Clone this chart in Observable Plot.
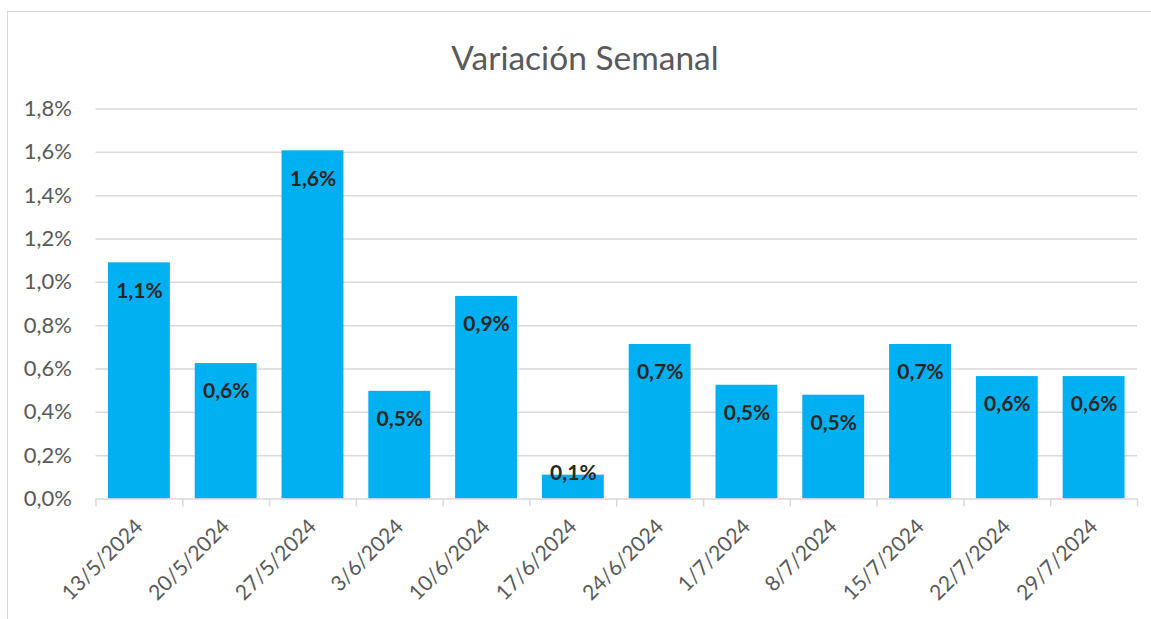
<!DOCTYPE html>
<html>
<head>
<meta charset="utf-8">
<script src="https://cdn.jsdelivr.net/npm/d3@7"></script>
<script src="https://cdn.jsdelivr.net/npm/@observablehq/plot@0.6"></script>
<style>
  html, body { margin: 0; padding: 0; background: #fff; }
  #wrap { position: relative; width: 1151px; height: 619px; overflow: hidden; font-family: Lato, "Open Sans", sans-serif; }
  #frame { position: absolute; left: 7px; top: 11px; width: 1200px; height: 700px; border-left: 1.5px solid #d9d9d9; border-top: 1.5px solid #d9d9d9; }
  #title { position: absolute; left: 0; top: 35px; width: 1170px; text-align: center; font-size: 33.5px; color: #595959; line-height: 44px; }
  #chart { position: absolute; left: 0; top: 0; }
</style>
</head>
<body>
<div id="wrap">
  <div id="frame"></div>
  <div id="chart"></div>
  <div id="title">Variación Semanal</div>
</div>
<script>
const weeks = ["13/5/2024","20/5/2024","27/5/2024","3/6/2024","10/6/2024","17/6/2024","24/6/2024","1/7/2024","8/7/2024","15/7/2024","22/7/2024","29/7/2024"];
const variation = [1.09, 0.625, 1.607, 0.497, 0.935, 0.11, 0.713, 0.525, 0.479, 0.713, 0.565, 0.565];
const yTicks = [0, 0.2, 0.4, 0.6, 0.8, 1.0, 1.2, 1.4, 1.6, 1.8];

const data = weeks.map((w, i) => ({week: w, value: variation[i]}));
const fmt = d => d.toFixed(1).replace(".", ",") + "%";

const W = 1151, H = 619, mL = 95.5, mR = 14, mT = 108.5, mB = 120.5;
const step = (W - mL - mR) / weeks.length;

const chart = Plot.plot({
  width: W,
  height: H,
  marginLeft: mL,
  marginRight: mR,
  marginTop: mT,
  marginBottom: mB,
  style: {fontFamily: "Lato, 'Open Sans', sans-serif", background: "transparent"},
  x: {domain: weeks, paddingInner: 0.287, paddingOuter: 0.1435, round: false, label: null},
  y: {domain: [0, 1.8], label: null},
  marks: [
    Plot.gridY(yTicks.slice(1), {stroke: "#d9d9d9", strokeOpacity: 1, strokeWidth: 1.5}),
    Plot.barY(data, {x: "week", y: "value", fill: "#00B0F0"}),
    Plot.ruleY([0], {stroke: "#d9d9d9", strokeWidth: 1.5}),
    Plot.ruleX(weeks, {x: d => d, dx: -step / 2, y1: 0, y2: 0, insetBottom: -8, stroke: "#d9d9d9", strokeWidth: 1.5}),
    Plot.ruleX(weeks.slice(-1), {x: d => d, dx: step / 2, y1: 0, y2: 0, insetBottom: -8, stroke: "#d9d9d9", strokeWidth: 1.5}),
    Plot.axisY({ticks: yTicks, tickFormat: fmt, tickSize: 0, tickPadding: 24, fontSize: 22, fill: "#595959", label: null}),
    Plot.axisX({tickRotate: -45, tickSize: 0, tickPadding: 24, fontSize: 21, fill: "#595959", label: null}),
    Plot.text(data.filter(d => d.value > 0.2), {x: "week", y: "value", text: d => fmt(d.value), dy: 28, fontSize: 21, fontWeight: "bold", fill: "#262626"}),
    Plot.text(data.filter(d => d.value <= 0.2), {x: "week", y: "value", text: d => fmt(d.value), dy: -2, fontSize: 21, fontWeight: "bold", fill: "#262626"})
  ]
});
document.getElementById("chart").appendChild(chart);
</script>
</body>
</html>
